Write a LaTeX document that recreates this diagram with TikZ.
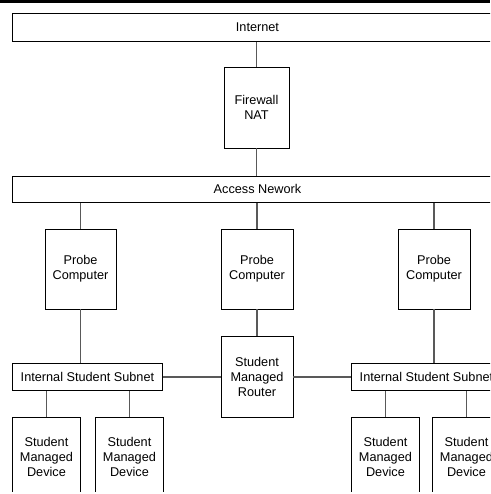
\documentclass[tikz,border=0pt]{standalone}
\usepackage{fontspec}
\setmainfont{Liberation Sans}
\begin{document}
\begin{tikzpicture}[x=1pt,y=-1pt,
  box/.style={draw=black, line width=0.9pt, rectangle, inner sep=0pt,
    align=center, font=\fontsize{12.7}{15}\selectfont},
  bar/.style={box, minimum height=28pt, anchor=north west},
  tall/.style={box, minimum width=71pt, minimum height=80pt},
  devbox/.style={box, minimum width=68pt, minimum height=80pt, anchor=north west},
  subnetbox/.style={box, minimum width=150pt, minimum height=27pt, anchor=north west},
  wire/.style={draw=black!65, line width=1.3pt}]
\useasboundingbox (0,0) rectangle (490,494);
\clip (0,0) rectangle (490,491);
% heavy rule along the top edge
\fill[black] (0,0) rectangle (490,3);

% backbone bars
\node[bar, minimum width=490pt] (inet) at (12,13) {Internet};
\node[bar, minimum width=490pt, minimum height=26pt] (acc) at (12,176) {Access Nework};

% firewall between the two bars
\node[tall, minimum width=65pt, minimum height=81pt] (fw) at (256.5,107.5) {Firewall\\NAT};

% probe computers
\node[tall] (pl) at (80.5,269) {Probe\\Computer};
\node[tall, minimum width=72pt] (pm) at (257,269) {Probe\\Computer};
\node[tall, minimum width=72pt] (pr) at (434,269) {Probe\\Computer};

% router
\node[tall, minimum width=72pt, minimum height=81pt] (rt) at (257,376.5) {Student\\Managed\\Router};

% student subnets
\node[subnetbox] (sl) at (12,363) {Internal Student Subnet};
\node[subnetbox] (sr) at (351,363) {Internal Student Subnet};

% student devices
\node[devbox] (d1) at (12,417) {Student\\Managed\\Device};
\node[devbox] (d2) at (95,417) {Student\\Managed\\Device};
\node[devbox] (d3) at (351,417) {Student\\Managed\\Device};
\node[devbox] (d4) at (432,417) {Student\\Managed\\Device};

% connectors
\draw[wire] (fw.north) -- (fw.north |- inet.south);
\draw[wire] (fw.south) -- (fw.south |- acc.north);
\draw[wire] (pl.north) -- (pl.north |- acc.south);
\draw[wire] (pm.north) -- (pm.north |- acc.south);
\draw[wire] (pr.north) -- (pr.north |- acc.south);
\draw[wire] (pl.south) -- (pl.south |- sl.north);
\draw[wire] (pm.south) -- (rt.north);
\draw[wire] (pr.south) -- (pr.south |- sr.north);
\draw[wire] (sl.east) -- (rt.west |- sl.east);
\draw[wire] (rt.east |- sr.west) -- (sr.west);
\draw[wire] (d1.north) -- (d1.north |- sl.south);
\draw[wire] (d2.north) -- (d2.north |- sl.south);
\draw[wire] (d3.north) -- (d3.north |- sr.south);
\draw[wire] (d4.north) -- (d4.north |- sr.south);
\end{tikzpicture}
\end{document}
